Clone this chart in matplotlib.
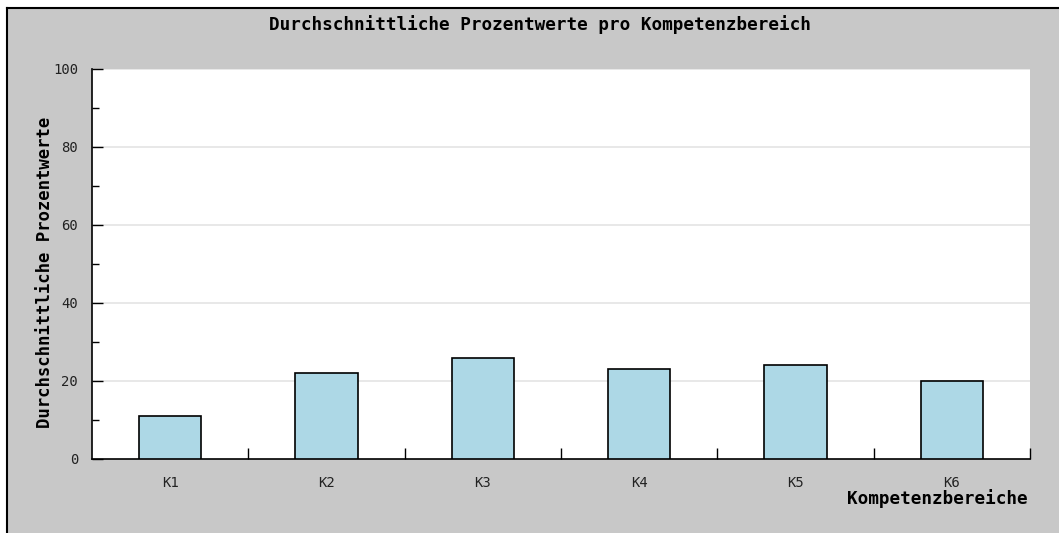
import numpy as np
import matplotlib
matplotlib.use("Agg")
import matplotlib.pyplot as plt
from matplotlib.ticker import MultipleLocator, FixedLocator, NullFormatter

# data
kategorien = ['K1', 'K2', 'K3', 'K4', 'K5', 'K6']
prozent = [11, 22, 26, 23, 24, 20]
y_ticks = [0, 20, 40, 60, 80, 100]

W, H = 1059, 533
fig = plt.figure(figsize=(W / 100, H / 100), dpi=100)
fig.patch.set_facecolor('white')

# gray background with a black frame on the left and top
bg = plt.Rectangle((7 / W, 0), 1, 1 - 8 / H, transform=fig.transFigure,
                   facecolor='#c8c8c8', edgecolor='none', zorder=-10)
fig.patches.append(bg)
fig.add_artist(plt.Line2D([7 / W, 7 / W], [0, 1 - 8 / H], color='black', lw=1.5, transform=fig.transFigure))
fig.add_artist(plt.Line2D([7 / W, 1], [1 - 8 / H, 1 - 8 / H], color='black', lw=1.5, transform=fig.transFigure))

left, right, top, bottom = 92, 1030, 69, 459
ax = fig.add_axes([left / W, (H - bottom) / H, (right - left) / W, (bottom - top) / H])
ax.set_facecolor('white')

x = np.arange(len(kategorien)) + 0.5
ax.bar(x, prozent, width=0.4, color='#add8e6', edgecolor='black', linewidth=1.2, zorder=3)

ax.set_xlim(0, len(kategorien))
ax.set_ylim(0, 100)

for s in ['top', 'right']:
    ax.spines[s].set_visible(False)
for s in ['left', 'bottom']:
    ax.spines[s].set_linewidth(1.2)

ax.set_yticks(y_ticks)
ax.yaxis.set_minor_locator(MultipleLocator(10))
ax.tick_params(axis='y', which='major', direction='in', length=8, width=1, pad=10,
               labelsize=10, labelcolor='#222222')
ax.tick_params(axis='y', which='minor', direction='in', length=5, width=1)
for lab in ax.get_yticklabels():
    lab.set_family('DejaVu Sans Mono')
for yv in y_ticks[1:]:
    ax.axhline(yv, color='#e4e4e4', lw=1.2, zorder=1)

# x: boundary ticks up, labels at category centres
ax.xaxis.set_major_locator(FixedLocator(np.arange(1, len(kategorien) + 1)))
ax.xaxis.set_major_formatter(NullFormatter())
ax.xaxis.set_minor_locator(FixedLocator(x))
ax.set_xticklabels(kategorien, minor=True)
ax.tick_params(axis='x', which='major', direction='in', length=8, width=1)
ax.tick_params(axis='x', which='minor', length=0, pad=12, labelsize=10, labelcolor='#222222')
for lab in ax.get_xticklabels(minor=True):
    lab.set_family('DejaVu Sans Mono')

mono = dict(family='DejaVu Sans Mono', fontweight='bold', color='black')
fig.text(540 / W, (H - 25) / H, 'Durchschnittliche Prozentwerte pro Kompetenzbereich',
         ha='center', va='center', fontsize=12.7, **mono)
fig.text(45 / W, (H - 272) / H, 'Durchschnittliche Prozentwerte', rotation=90,
         ha='center', va='center', fontsize=12.4, **mono)
fig.text(1028 / W, (H - 499) / H, 'Kompetenzbereiche',
         ha='right', va='center', fontsize=12.7, **mono)

fig.savefig('out.png', dpi=100, facecolor=fig.get_facecolor())
